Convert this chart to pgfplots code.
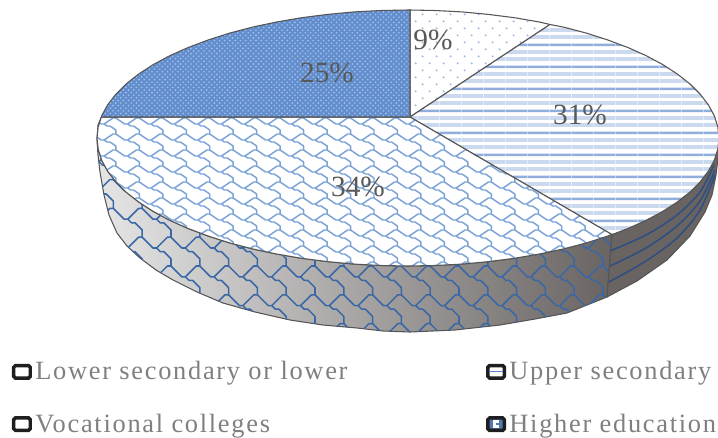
\documentclass[border=0pt]{standalone}
\usepackage{fontspec}
\setmainfont{Liberation Serif}
\newfontfamily\legendfont[LetterSpace=6.5]{Liberation Serif}
\usepackage{pgfplots}
\pgfplotsset{compat=1.18}
\usetikzlibrary{patterns}

\definecolor{edge}{HTML}{555555}
\definecolor{labelgrey}{HTML}{595959}
\definecolor{legendgrey}{HTML}{7F7F7F}
\definecolor{keyblack}{HTML}{1F1F22}
\definecolor{shingleblue}{HTML}{7BA3D8}
\definecolor{shingledark}{HTML}{3A67A5}
\definecolor{rimstripe}{HTML}{2F4F82}
\definecolor{stripestrong}{HTML}{8FAEDB}
\definecolor{stripesoft}{HTML}{CBD9EF}
\definecolor{dotblue}{HTML}{A0BAE3}
\definecolor{higherbase}{HTML}{628ECD}
\definecolor{higherspot}{HTML}{A6C1E9}
\definecolor{rimlight}{HTML}{E6E6E6}
\definecolor{rimmid}{HTML}{B6B2B1}
\definecolor{rimdark}{HTML}{696462}

% Roof-shingle hatch on an eight-by-eight grid; #1 and #2 are the cell sizes
\def\shinglepath#1#2{%
  \def\sg##1##2{\pgfpoint{##1*#1}{-##2*#2}}%
  \pgfsetroundcap
  \pgfsetroundjoin
  \pgfpathmoveto{\sg{-0.5}{0.5}}
  \pgfpathlineto{\sg{0.5}{1.5}}
  \pgfpathlineto{\sg{1.5}{2.5}}
  \pgfpathlineto{\sg{2.5}{3.5}}
  \pgfpathlineto{\sg{3.5}{3.5}}
  \pgfpathlineto{\sg{4.5}{4.5}}
  \pgfpathlineto{\sg{5.5}{4.5}}
  \pgfpathlineto{\sg{6.5}{5.5}}
  \pgfpathlineto{\sg{7.5}{6.5}}
  \pgfpathlineto{\sg{7.5}{8.5}}
  \pgfpathmoveto{\sg{3.5}{3.5}}
  \pgfpathlineto{\sg{6.5}{0.5}}
  \pgfpathlineto{\sg{7.5}{0.5}}
  \pgfusepath{stroke}
}
% Flattened shingle for the top face
\pgfdeclarepatternformonly{shingle}{\pgfpoint{-4pt}{-15pt}}{\pgfpoint{20pt}{3pt}}{\pgfpoint{17.6pt}{12pt}}{%
  \pgfsetlinewidth{1.1pt}
  \shinglepath{2.2pt}{1.5pt}
}
% Larger shingle for the rim
\pgfdeclarepatternformonly{rimshingle}{\pgfpoint{-5pt}{-26pt}}{\pgfpoint{26pt}{5pt}}{\pgfpoint{21.6pt}{21.6pt}}{%
  \pgfsetlinewidth{1.15pt}
  \shinglepath{2.7pt}{2.7pt}
}
% Sparse staggered dots
\pgfdeclarepatternformonly{sparsedots}{\pgfpoint{-1pt}{-1pt}}{\pgfpoint{12pt}{12pt}}{\pgfpoint{10.5pt}{10.5pt}}{%
  \pgfpathcircle{\pgfpoint{2pt}{2pt}}{0.85pt}
  \pgfpathcircle{\pgfpoint{7.25pt}{7.25pt}}{0.85pt}
  \pgfusepath{fill}
}
% Fine staggered spots
\pgfdeclarepatternformonly{finespots}{\pgfpoint{-1pt}{-1pt}}{\pgfpoint{5pt}{5pt}}{\pgfpoint{3.9pt}{3.9pt}}{%
  \pgfpathcircle{\pgfpoint{0.9pt}{0.9pt}}{0.68pt}
  \pgfpathcircle{\pgfpoint{2.85pt}{2.85pt}}{0.68pt}
  \pgfusepath{fill}
}
% Horizontal bands: one strong band and two soft ones per repeat
\pgfdeclarepatterninherentlycolored{bands}{\pgfpointorigin}{\pgfpoint{16.5pt}{16.5pt}}{\pgfpoint{16.5pt}{16.5pt}}{%
  \pgfsetfillcolor{white}
  \pgfpathrectangle{\pgfpointorigin}{\pgfpoint{16.5pt}{16.5pt}}
  \pgfusepath{fill}
  \pgfsetfillcolor{stripestrong}
  \pgfpathrectangle{\pgfpoint{0pt}{13.9pt}}{\pgfpoint{16.5pt}{2pt}}
  \pgfusepath{fill}
  \pgfsetfillcolor{stripesoft}
  \pgfpathrectangle{\pgfpoint{0pt}{2.4pt}}{\pgfpoint{16.5pt}{3pt}}
  \pgfpathrectangle{\pgfpoint{0pt}{7.9pt}}{\pgfpoint{16.5pt}{3pt}}
  \pgfusepath{fill}
}

\tikzset{
  keybase/.style={draw=keyblack, line width=2.6pt, rounded corners=1.3pt},
}

\begin{document}
\begin{tikzpicture}
\path[use as bounding box] (0,0) rectangle (538.5pt,327.75pt);
\begin{axis}[
  at={(0,0)}, anchor=south west,
  scale only axis, width=538.5pt, height=327.75pt,
  xmin=0, xmax=718, ymin=0, ymax=437, y dir=reverse,
  axis lines=none, clip=true,
  legend columns=2,
  legend cell align=left,
  legend style={
    at={(12/718,1-359/437)}, anchor=north west,
    draw=none, fill=none, inner sep=0pt, outer sep=0pt,
    font=\fontsize{19.8}{22}\legendfont\color{legendgrey},
    row sep=20pt,
    /tikz/column 1/.style={column sep=0.5pt},
    /tikz/column 2/.style={column sep=102pt},
    /tikz/column 3/.style={column sep=0.5pt},
  },
]

% Rim of the 34% slice
\addplot[forget plot, draw=edge, line width=0.8pt,
    left color=rimlight, middle color=rimmid, right color=rimdark]
  coordinates {
  (612,234.6)(607.9,236)(586.4,242.9)(563.5,248.9)(539.4,254)(514.4,258.3)(488.5,261.6)(462,264.1)(435.1,265.5)(408,266)
  (380.9,265.5)(354,264.1)(327.5,261.6)(301.6,258.3)(276.6,254)(252.5,248.9)(229.6,242.9)(208.1,236)(188.1,228.5)
  (169.8,220.3)(153.2,211.4)(138.7,202)(126.1,192.1)(115.8,181.8)(107.6,171.1)(101.7,160.3)(98.2,149.2)(97,138)(98.2,126.8)(101.4,117)
  (98,125)(97,140)(98,155)(100,172)(104,195)(109,215)(117,233)(127,246)(140,258)(156,270)(173,280)(197,292)(223,303)
  (255,312)(290,320)(323,325)(357,328)(383,331)(410,332)(455,330)(500,325)(535,319)(567,313)(607,297)
  } -- cycle;
\addplot[forget plot, draw=none, pattern=rimshingle, pattern color=shingledark]
  coordinates {
  (612,234.6)(607.9,236)(586.4,242.9)(563.5,248.9)(539.4,254)(514.4,258.3)(488.5,261.6)(462,264.1)(435.1,265.5)(408,266)
  (380.9,265.5)(354,264.1)(327.5,261.6)(301.6,258.3)(276.6,254)(252.5,248.9)(229.6,242.9)(208.1,236)(188.1,228.5)
  (169.8,220.3)(153.2,211.4)(138.7,202)(126.1,192.1)(115.8,181.8)(107.6,171.1)(101.7,160.3)(98.2,149.2)(97,138)(98.2,126.8)(101.4,117)
  (98,125)(97,140)(98,155)(100,172)(104,195)(109,215)(117,233)(127,246)(140,258)(156,270)(173,280)(197,292)(223,303)
  (255,312)(290,320)(323,325)(357,328)(383,331)(410,332)(455,330)(500,325)(535,319)(567,313)(607,297)
  } -- cycle;

% Rim of the 31% slice
\addplot[forget plot, draw=edge, line width=0.8pt, fill=rimdark]
  coordinates {
  (612,234.6)(627.9,228.5)(646.2,220.3)(662.8,211.4)(677.3,202)(689.9,192.1)(700.2,181.8)(708.4,171.1)(714.3,160.3)(717.8,149.2)(719,138)
  (719,150)(716,175)(712,195)(705,212)(690,236)(667,260)(637,281)(607,297)
  } -- cycle;
\addplot[forget plot, smooth, draw=rimstripe, line width=1.2pt] coordinates {(610,251)(646,235)(677,215)(700,192)(714,165)};
\addplot[forget plot, smooth, draw=rimstripe, line width=1.2pt] coordinates {(610,266)(646,248)(677,226)(700,201)(715,170)};
\addplot[forget plot, smooth, draw=rimstripe, line width=1.2pt] coordinates {(609,282)(646,261)(677,238)(700,210)(715,175)};

% Lower secondary or lower: 9%
\addplot[forget plot, draw=none, fill=white]
  coordinates {
  (410,117)(410,10)(435.1,10.5)(462,11.9)(488.5,14.4)(514.4,17.7)(539.4,22)(550,24.5)
  } -- cycle;
\addplot[draw=edge, line width=0.8pt, pattern=sparsedots, pattern color=dotblue,
    legend image code/.code={
      \draw[keybase, fill=white] (0pt,-4.7pt) rectangle (12.4pt,4.7pt);}]
  coordinates {
  (410,117)(410,10)(435.1,10.5)(462,11.9)(488.5,14.4)(514.4,17.7)(539.4,22)(550,24.5)
  } -- cycle;
\addlegendentry{Lower secondary or lower}

% Upper secondary: 31%
\addplot[draw=edge, line width=0.8pt, pattern=bands,
    legend image code/.code={
      \draw[keybase, fill=white] (0pt,-4.7pt) rectangle (12.4pt,4.7pt);
      \draw[stripestrong!70!blue, line width=1pt] (1pt,0pt) -- (11.4pt,0pt);}]
  coordinates {
  (410,117)(550,24.5)(563.5,27.1)(586.4,33.1)(607.9,40)(627.9,47.5)(646.2,55.7)(662.8,64.6)(677.3,74)(689.9,83.9)
  (700.2,94.2)(708.4,104.9)(714.3,115.7)(717.8,126.8)(719,138)(717.8,149.2)(714.3,160.3)(708.4,171.1)(700.2,181.8)
  (689.9,192.1)(677.3,202)(662.8,211.4)(646.2,220.3)(627.9,228.5)(612,234.6)
  } -- cycle;
\addlegendentry{Upper secondary}

% Vocational colleges: 34%
\addplot[forget plot, draw=none, fill=white]
  coordinates {
  (410,117)(612,234.6)(607.9,236)(586.4,242.9)(563.5,248.9)(539.4,254)(514.4,258.3)(488.5,261.6)(462,264.1)(435.1,265.5)(408,266)
  (380.9,265.5)(354,264.1)(327.5,261.6)(301.6,258.3)(276.6,254)(252.5,248.9)(229.6,242.9)(208.1,236)(188.1,228.5)
  (169.8,220.3)(153.2,211.4)(138.7,202)(126.1,192.1)(115.8,181.8)(107.6,171.1)(101.7,160.3)(98.2,149.2)(97,138)(98.2,126.8)(101.4,117)
  } -- cycle;
\addplot[draw=edge, line width=0.8pt, pattern=shingle, pattern color=shingleblue,
    legend image code/.code={
      \draw[keybase, fill=white] (0pt,-4.7pt) rectangle (12.4pt,4.7pt);}]
  coordinates {
  (410,117)(612,234.6)(607.9,236)(586.4,242.9)(563.5,248.9)(539.4,254)(514.4,258.3)(488.5,261.6)(462,264.1)(435.1,265.5)(408,266)
  (380.9,265.5)(354,264.1)(327.5,261.6)(301.6,258.3)(276.6,254)(252.5,248.9)(229.6,242.9)(208.1,236)(188.1,228.5)
  (169.8,220.3)(153.2,211.4)(138.7,202)(126.1,192.1)(115.8,181.8)(107.6,171.1)(101.7,160.3)(98.2,149.2)(97,138)(98.2,126.8)(101.4,117)
  } -- cycle;
\addlegendentry{Vocational colleges}

% Higher education: 25%
\addplot[forget plot, draw=none, fill=higherbase]
  coordinates {
  (410,117)(101.4,117)(101.7,115.7)(107.6,104.9)(115.8,94.2)(126.1,83.9)(138.7,74)(153.2,64.6)(169.8,55.7)(188.1,47.5)
  (208.1,40)(229.6,33.1)(252.5,27.1)(276.6,22)(301.6,17.7)(327.5,14.4)(354,11.9)(380.9,10.5)(408,10)(410,10)
  } -- cycle;
\addplot[draw=edge, line width=0.8pt, pattern=finespots, pattern color=higherspot,
    legend image code/.code={
      \draw[keybase, fill=higherbase!85!black] (0pt,-4.7pt) rectangle (12.4pt,4.7pt);
      \fill[white] (4.2pt,1.2pt) rectangle (5.7pt,2.8pt) (4.2pt,-0.7pt) rectangle (5.7pt,0.7pt) (4.2pt,-2.8pt) rectangle (5.7pt,-1.2pt)
                   (6.8pt,1.2pt) rectangle (8.3pt,2.8pt) (6.8pt,-2.8pt) rectangle (8.3pt,-1.2pt);}]
  coordinates {
  (410,117)(101.4,117)(101.7,115.7)(107.6,104.9)(115.8,94.2)(126.1,83.9)(138.7,74)(153.2,64.6)(169.8,55.7)(188.1,47.5)
  (208.1,40)(229.6,33.1)(252.5,27.1)(276.6,22)(301.6,17.7)(327.5,14.4)(354,11.9)(380.9,10.5)(408,10)(410,10)
  } -- cycle;
\addlegendentry{Higher education}

% Share of each slice
\node[text=labelgrey, font=\fontsize{22}{24}\selectfont] at (axis cs:433,40) {9\%};
\node[text=labelgrey, font=\fontsize{22}{24}\selectfont] at (axis cs:580,115) {31\%};
\node[text=labelgrey, font=\fontsize{22}{24}\selectfont] at (axis cs:358,187) {34\%};
\node[text=labelgrey, font=\fontsize{22}{24}\selectfont] at (axis cs:327,73) {25\%};
\end{axis}
\end{tikzpicture}
\end{document}
